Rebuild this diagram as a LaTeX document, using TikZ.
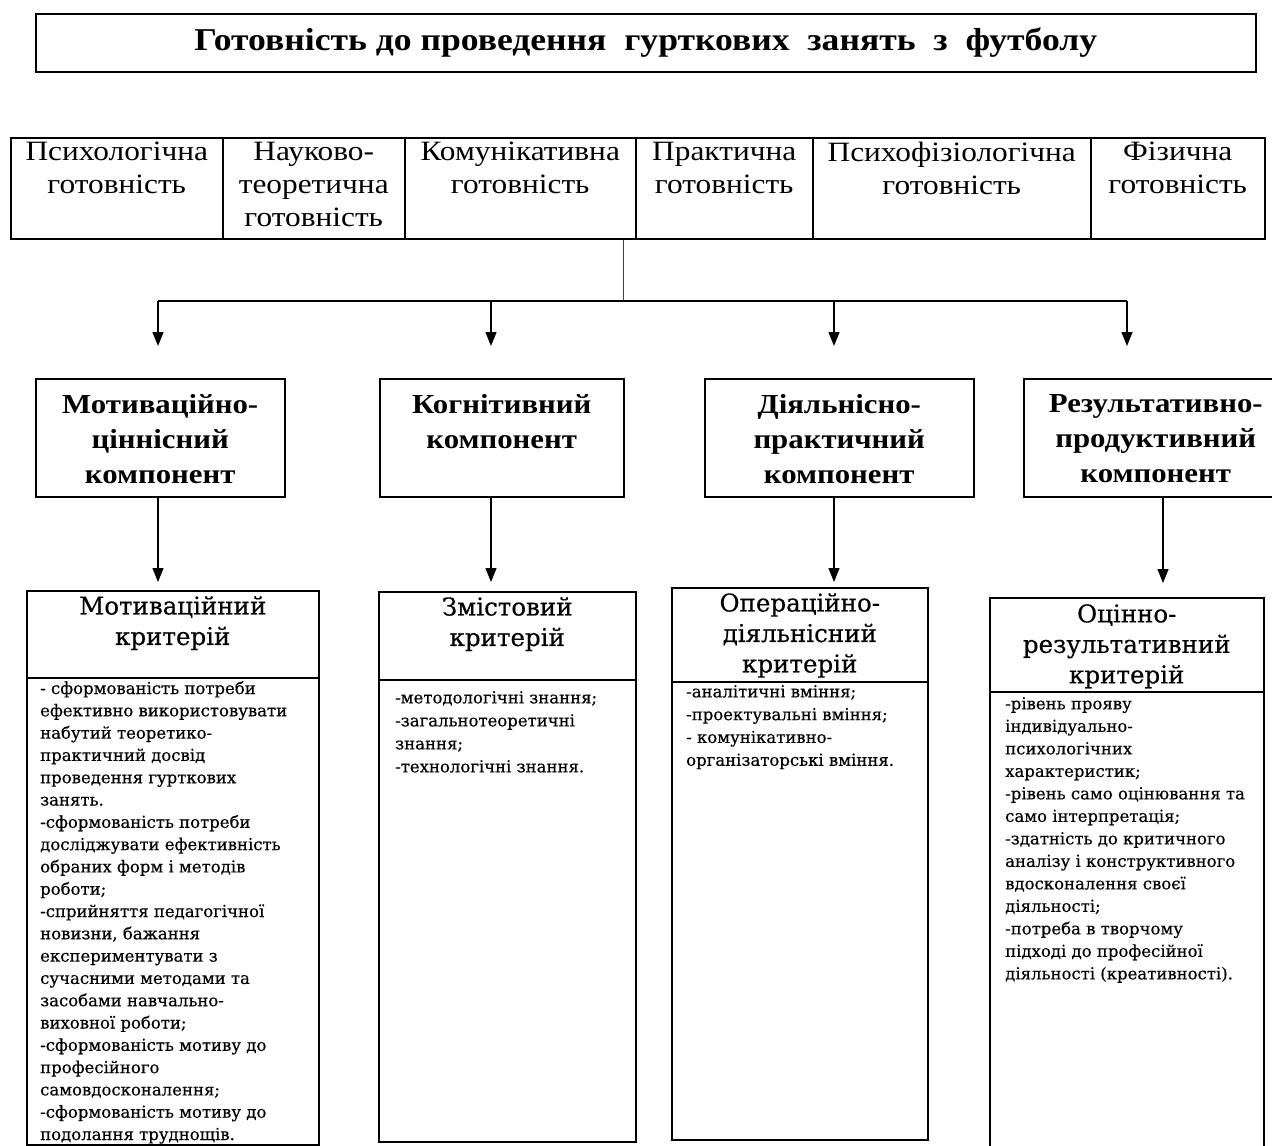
\documentclass[tikz,border=0pt]{standalone}
\usepackage{fontspec}
\setmainfont{Liberation Serif}
\newfontfamily\widefont{Liberation Serif}[FakeStretch=1.12]
\newfontfamily\critfont{DejaVu Serif}[FakeBold=0.4]
\usetikzlibrary{arrows.meta}
\begin{document}
\begin{tikzpicture}[x=1pt,y=-1pt,
  box/.style={draw, line width=1.5pt, inner sep=0pt, anchor=north west},
  rowtext/.style={inner sep=0pt, anchor=north, align=center, font=\widefont\fontsize{28}{33}\selectfont},
  comptext/.style={inner sep=0pt, anchor=north, align=center, font=\widefont\fontsize{27.5}{35}\selectfont\bfseries},
  crithead/.style={inner sep=0pt, anchor=north, align=center, font=\critfont\fontsize{24.5}{30.5}\selectfont},
  critbody/.style={inner sep=0pt, anchor=north west, align=left, font=\critfont\fontsize{16.5}{22.3}\selectfont},
  conn/.style={line width=1.3pt},
  arr/.style={line width=1.3pt, -{Triangle[length=14pt,width=11pt]}}
]
\useasboundingbox (0,0) rectangle (1272,1146);
\fill[white] (0,0) rectangle (1272,1146);

% title
\node[box, minimum width=1220pt, minimum height=58pt,
      font=\widefont\fontsize{31.8}{36}\selectfont\bfseries] (title) at (35,13)
  {Готовність до проведення\ \ гурткових\ \ занять\ \ з\ \ футболу};

% readiness row
\node[box, minimum width=212pt, minimum height=101pt] (r1) at (10,137) {};
\node[box, minimum width=182pt, minimum height=101pt] (r2) at (222,137) {};
\node[box, minimum width=231pt, minimum height=101pt] (r3) at (404,137) {};
\node[box, minimum width=177pt, minimum height=101pt] (r4) at (635,137) {};
\node[box, minimum width=278pt, minimum height=101pt] (r5) at (812,137) {};
\node[box, minimum width=174pt, minimum height=101pt] (r6) at (1090,137) {};
\node[rowtext] (r1t) at ([yshift=-5pt]r1.north) {Психологічна\\готовність};
\node[rowtext] (r2t) at ([yshift=-5pt]r2.north) {Науково-\\теоретична\\готовність};
\node[rowtext] (r3t) at ([yshift=-5pt]r3.north) {Комунікативна\\готовність};
\node[rowtext] (r4t) at ([yshift=-5pt]r4.north) {Практична\\готовність};
\node[rowtext] (r5t) at ([yshift=-5pt]r5.north) {Психофізіологічна\\готовність};
\node[rowtext] (r6t) at ([yshift=-5pt]r6.north) {Фізична\\готовність};

% components
\node[box, minimum width=249pt, minimum height=118pt] (c1) at (35,378) {};
\node[box, minimum width=244pt, minimum height=118pt] (c2) at (379,378) {};
\node[box, minimum width=269pt, minimum height=118pt] (c3) at (704,378) {};
\node[box, minimum width=262pt, minimum height=118pt] (c4) at (1023,378) {};
\node[comptext] (c1t) at ([yshift=-16pt]c1.north) {Мотиваційно-\\ціннісний\\компонент};
\node[comptext] (c2t) at ([yshift=-16pt]c2.north) {Когнітивний\\компонент};
\node[comptext] (c3t) at ([yshift=-16pt]c3.north) {Діяльнісно-\\практичний\\компонент};
\node[comptext] (c4t) at ([yshift=-16pt,xshift=1pt]c4.north) {Результативно-\\продуктивний\\компонент};

% criteria
\node[box, minimum width=292pt, minimum height=87pt] (k1h) at (26,590) {};
\node[box, minimum width=292pt, minimum height=467pt] (k1b) at (26,677) {};
\node[box, minimum width=257pt, minimum height=88pt] (k2h) at (378,591) {};
\node[box, minimum width=257pt, minimum height=462pt] (k2b) at (378,679) {};
\node[box, minimum width=256pt, minimum height=94pt] (k3h) at (671,587) {};
\node[box, minimum width=256pt, minimum height=458pt] (k3b) at (671,681) {};
\node[box, minimum width=274pt, minimum height=94pt] (k4h) at (989,597) {};
\node[box, minimum width=274pt, minimum height=470pt] (k4b) at (989,691) {};

\node[crithead] (k1ht) at ([yshift=-6pt]k1h.north) {Мотиваційний\\критерій};
\node[crithead] (k2ht) at ([yshift=-6pt]k2h.north) {Змістовий\\критерій};
\node[crithead] (k3ht) at ([yshift=-6pt]k3h.north) {Операційно-\\діяльнісний\\критерій};
\node[crithead] (k4ht) at ([yshift=-7pt]k4h.north) {Оцінно-\\результативний\\критерій};

\node[critbody] (k1bt) at (40,681) {- сформованість потреби\\ефективно використовувати\\набутий теоретико-\\практичний досвід\\проведення гурткових\\занять.\\-сформованість потреби\\досліджувати ефективність\\обраних форм і методів\\роботи;\\-сприйняття педагогічної\\новизни, бажання\\експериментувати з\\сучасними методами та\\засобами навчально-\\виховної роботи;\\-сформованість мотиву до\\професійного\\самовдосконалення;\\-сформованість мотиву до\\подолання труднощів.};
\node[critbody, font=\critfont\fontsize{16.5}{23}\selectfont] (k2bt) at (395,691) {-методологічні знання;\\-загальнотеоретичні\\знання;\\-технологічні знання.};
\node[critbody, font=\critfont\fontsize{16.5}{22.8}\selectfont] (k3bt) at (686,685) {-аналітичні вміння;\\-проектувальні вміння;\\- комунікативно-\\організаторські вміння.};
\node[critbody, font=\critfont\fontsize{16.5}{22.5}\selectfont] (k4bt) at (1005,697) {-рівень прояву\\індивідуально-\\психологічних\\характеристик;\\-рівень само оцінювання та\\само інтерпретація;\\-здатність до критичного\\аналізу і конструктивного\\вдосконалення своєї\\діяльності;\\-потреба в творчому\\підході до професійної\\діяльності (креативності).};

% connectors
\coordinate (hub) at (623,301);
\coordinate (t1) at (158,346);
\coordinate (t2) at (491,346);
\coordinate (t3) at (834,346);
\coordinate (t4) at (1127,346);
\draw[line width=1pt, black!75] (r3.south -| hub) -- (hub);
\draw[conn] (hub -| t1) -- (hub -| t4);
\draw[arr] (hub -| t1) -- (t1);
\draw[arr] (hub -| t2) -- (t2);
\draw[arr] (hub -| t3) -- (t3);
\draw[arr] (hub -| t4) -- (t4);

\coordinate (u1) at (158,582);
\coordinate (u2) at (491,582);
\coordinate (u3) at (834,582);
\coordinate (u4) at (1163,583);
\draw[arr] (c1.south -| u1) -- (u1);
\draw[arr] (c2.south -| u2) -- (u2);
\draw[arr] (c3.south -| u3) -- (u3);
\draw[arr] (c4.south -| u4) -- (u4);
\end{tikzpicture}
\end{document}
